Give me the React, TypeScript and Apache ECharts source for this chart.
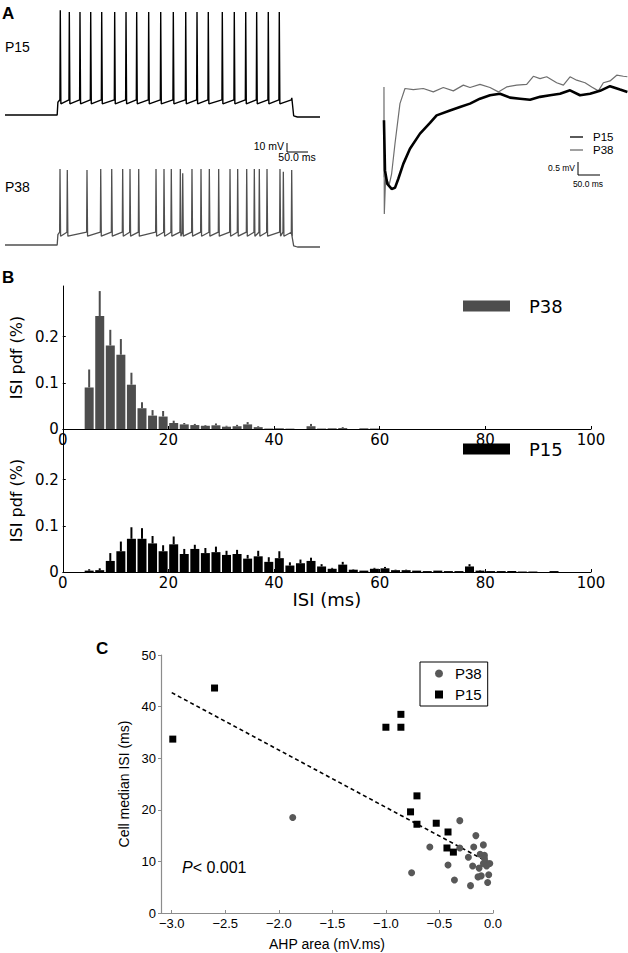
import React, { useEffect, useRef } from "react";
import * as echarts from "echarts";

// ---------- Panel A: example spike trains (ms / mV) ----------
const STEP_ON_MS = 111;
const STEP_OFF_MS = 610;
const TRACE_END_MS = 670;

const p15SpikeTimes = [117.6, 136.8, 159.5, 182.3, 205.7, 233.3, 257.4, 280.1, 305.6, 331.2, 358, 384.4, 408.4, 432.4, 462.2, 487.7, 512, 535.3, 560, 583.4];
const p15SpikePeaks = [61, 58.8, 58.8, 58.8, 58.8, 58.8, 58.8, 58.8, 58.8, 58.8, 58.8, 58.8, 58.8, 58.8, 58.8, 58.8, 58.8, 58.8, 58.8, 58.8];
const p15Levels = [-70, -51, -56, -48.5, -72.5]; // rest, pre-spike, AHP, offset bump, undershoot

const p38SpikeTimes = [117, 132.5, 174.4, 203.6, 227, 250.3, 265.9, 284.4, 321.2, 338.2, 353.7, 372.9, 378, 397.7, 416.9, 434.6, 454.5, 478.6, 494.9, 514.1, 530.3, 540.9, 557.3, 584.9, 592, 609.8];
const p38SpikePeaks = [25, 23.8, 23.8, 25, 25, 25, 25, 25, 25, 25, 25, 25, 19.6, 25, 25, 25, 25, 25, 25, 25, 25, 25, 25, 25, 21.7, 23.8];
const p38Levels = [-70, -54, -59, -54, -72.5];

// averaged AHP traces (ms after spike, mV)
const ahpP38Time = [0, 0, 0.8, 3.8, 12.1, 17.4, 25, 36.3, 47.7, 66.6, 89.3, 112, 134.7, 157.5, 180.2, 195.3, 218, 240.7, 259.6, 278.5, 301.3, 324, 339.1, 354.3, 369.4, 392.1, 407.3, 422.4, 437.5, 456.5, 471.6, 486.8, 498.1, 513.2, 528.4, 543.5, 552.6];
const ahpP38Volt = [-3.41, 0.05, -4.82, -3.41, -3.69, -3.28, -2.13, -0.59, -0.01, -0.05, -0.01, -0.14, 0.03, -0.1, 0.12, 0.03, 0.15, 0.03, -0.14, 0.05, 0.12, 0.15, 0.46, 0.37, 0.44, 0.21, 0.12, 0.44, 0.31, 0.21, 0.05, -0.1, 0.21, 0.28, 0.5, 0.46, 0.44];
const ahpP15Time = [0, 2.3, 7.6, 17.4, 25, 32.6, 43.9, 59, 81.8, 104.5, 119.6, 149.9, 172.6, 195.3, 218, 240.7, 263.4, 286.1, 308.9, 331.6, 354.3, 377, 399.7, 422.4, 445.1, 467.8, 490.5, 513.2, 535.9, 552.6];
const ahpP15Volt = [-1.23, -3.15, -3.67, -3.86, -3.82, -3.47, -2.9, -2.32, -1.74, -1.33, -1.04, -0.85, -0.72, -0.59, -0.4, -0.27, -0.21, -0.36, -0.4, -0.44, -0.33, -0.27, -0.21, -0.08, -0.27, -0.21, -0.1, 0.08, -0.05, -0.14];

// ---------- Panel B: ISI histograms (2 ms bins) ----------
const isiBins = [1, 3, 5, 7, 9, 11, 13, 15, 17, 19, 21, 23, 25, 27, 29, 31, 33, 35, 37, 39, 41, 43, 45, 47, 49, 51, 53, 55, 57, 59, 61, 63, 65, 67, 69, 71, 73, 75, 77, 79, 81, 83, 85, 87, 89, 91, 93, 95, 97, 99];
const p38Pdf = [0, 0, 0.09, 0.245, 0.181, 0.161, 0.096, 0.045, 0.029, 0.027, 0.013, 0.01, 0.0085, 0.007, 0.008, 0.005, 0.006, 0.01, 0.004, 0.001, 0.0015, 0.0008, 0, 0.006, 0.001, 0.0015, 0.002, 0, 0.0015, 0.001, 0, 0, 0, 0, 0, 0, 0, 0, 0, 0, 0, 0, 0, 0, 0, 0, 0, 0, 0, 0];
const p38Sem = [0, 0, 0.039, 0.054, 0.034, 0.034, 0.026, 0.013, 0.012, 0.012, 0.005, 0.003, 0.0025, 0.0016, 0.004, 0.002, 0.003, 0.005, 0.002, 0, 0, 0, 0, 0.005, 0, 0, 0.002, 0, 0, 0, 0, 0, 0, 0, 0, 0, 0, 0, 0, 0, 0, 0, 0, 0, 0, 0, 0, 0, 0, 0];
const p15Pdf = [0, 0, 0.003, 0.004, 0.024, 0.045, 0.072, 0.072, 0.062, 0.045, 0.06, 0.039, 0.05, 0.041, 0.043, 0.037, 0.039, 0.029, 0.034, 0.022, 0.03, 0.014, 0.019, 0.024, 0.012, 0.007, 0.016, 0.005, 0.003, 0.007, 0.008, 0.004, 0.004, 0.003, 0.002, 0.003, 0.002, 0.002, 0.012, 0.003, 0.002, 0.002, 0.002, 0.001, 0.001, 0, 0.002, 0, 0, 0];
const p15Sem = [0, 0, 0.003, 0.004, 0.017, 0.021, 0.025, 0.023, 0.016, 0.013, 0.017, 0.011, 0.009, 0.011, 0.012, 0.009, 0.009, 0.008, 0.012, 0.01, 0.015, 0.007, 0.008, 0.007, 0.005, 0.002, 0.006, 0.001, 0, 0.002, 0.003, 0.001, 0.001, 0, 0, 0, 0, 0, 0.005, 0.001, 0, 0, 0, 0, 0, 0, 0, 0, 0, 0];
const isiXTicks = [0, 20, 40, 60, 80, 100];
const pdfYTicks = [0, 0.1, 0.2];

// ---------- Panel C: AHP area vs median ISI ----------
const p38Ahp = [-1.87, -0.76, -0.59, -0.42, -0.36, -0.31, -0.31, -0.23, -0.21, -0.18, -0.16, -0.19, -0.14, -0.13, -0.11, -0.12, -0.09, -0.08, -0.07, -0.09, -0.06, -0.04, -0.05, -0.03, -0.08];
const p38MedianIsi = [18.5, 7.8, 12.8, 9.3, 6.4, 12.6, 17.9, 10.8, 5.3, 12.8, 15.0, 9.1, 7.0, 8.7, 7.2, 11.4, 13.2, 11.2, 9.9, 9.6, 9.1, 7.4, 5.9, 9.6, 10.6];
const p15Ahp = [-2.99, -2.6, -1.0, -0.86, -0.86, -0.71, -0.77, -0.71, -0.53, -0.42, -0.43, -0.37];
const p15MedianIsi = [33.7, 43.6, 36.0, 38.5, 36.0, 22.7, 19.6, 17.2, 17.4, 15.7, 12.6, 11.8];
const fitAhp = [-3.0, -0.04];
const fitIsi = [42.7, 9.8];
const ahpXTicks = [-3.0, -2.5, -2.0, -1.5, -1.0, -0.5, 0.0];

const FONT = "Liberation Sans, Arial, Helvetica, sans-serif";
const FONT_B = "DejaVu Sans, Liberation Sans, sans-serif";
const GREY = "#505050";

function buildSpikeTrace(times: number[], peaks: number[], levels: number[]) {
  const [rest, pre, ahp, offBump, under] = levels;
  const pts: number[][] = [[0, rest], [STEP_ON_MS, rest], [STEP_ON_MS + 1.5, pre - 3]];
  times.forEach((t, i) => {
    pts.push([t - 0.8, pre], [t, peaks[i]], [t + 1.2, ahp]);
  });
  pts.push([STEP_OFF_MS - 1, pre], [STEP_OFF_MS, offBump], [STEP_OFF_MS + 4, rest - 1], [STEP_OFF_MS + 12, under], [TRACE_END_MS, under]);
  return pts;
}

const zip = (a: number[], b: number[]) => a.map((v, i) => [v, b[i]]);

function histData(pdf: number[]) {
  return isiBins.map((b, i) => [b, pdf[i]]).filter((d) => d[1] > 0);
}
function errData(pdf: number[], sem: number[]) {
  return isiBins.map((b, i) => [b, pdf[i], sem[i]]).filter((d) => d[2] > 0);
}
function errRender(color: string) {
  return (params: any, api: any) => {
    const x = api.value(0);
    const y = api.value(1);
    const e = api.value(2);
    const p0 = api.coord([x, y]);
    const p1 = api.coord([x, y + e]);
    return {
      type: "line",
      shape: { x1: p0[0], y1: p0[1], x2: p1[0], y2: p1[1] },
      style: { stroke: color, lineWidth: 2 },
    };
  };
}
const legendName = (n: string) => n.split(" ")[0];

function text(x: number, y: number, t: string, size: number, extra: any = {}) {
  return {
    type: "text",
    x,
    y,
    style: {
      text: t,
      fontSize: size,
      fontFamily: FONT,
      fill: "#000",
      align: "left",
      verticalAlign: "middle",
      textAlign: "left",
      textVerticalAlign: "middle",
      ...extra,
    },
  };
}
function seg(x1: number, y1: number, x2: number, y2: number) {
  return { type: "line", shape: { x1, y1, x2, y2 }, style: { stroke: "#000", lineWidth: 1 } };
}

const hiddenX = (gi: number, min: number, max: number) => ({ type: "value", gridIndex: gi, min, max, show: false });
const hiddenY = (gi: number, min: number, max: number) => ({ type: "value", gridIndex: gi, min, max, show: false });

const histX = (gi: number, withName: boolean) => ({
  type: "value",
  gridIndex: gi,
  min: 0,
  max: 100,
  interval: 20,
  axisLine: { onZero: false, lineStyle: { color: "#000", width: 1 } },
  axisTick: { inside: true, length: 3, lineStyle: { color: "#000" }, customValues: isiXTicks },
  axisLabel: { fontFamily: FONT_B, fontSize: 15, color: "#000", margin: 3, customValues: isiXTicks },
  splitLine: { show: false },
  ...(withName
    ? { name: "ISI (ms)", nameLocation: "middle", nameGap: 15, nameTextStyle: { fontFamily: FONT_B, fontSize: 18, color: "#000" } }
    : {}),
});
const histY = (gi: number) => ({
  type: "value",
  gridIndex: gi,
  min: 0,
  max: 0.31,
  interval: 0.1,
  axisLine: { show: true, onZero: false, lineStyle: { color: "#000", width: 1 } },
  axisTick: { show: true, inside: true, length: 3, lineStyle: { color: "#000" }, customValues: [0.1, 0.2] },
  axisLabel: {
    fontFamily: FONT_B,
    fontSize: 15,
    color: "#000",
    margin: 4,
    customValues: pdfYTicks,
    formatter: (v: number) => (v === 0 ? "0" : v.toFixed(1)),
  },
  splitLine: { show: false },
  name: "ISI pdf (%)",
  nameLocation: "middle",
  nameGap: 36,
  nameTextStyle: { fontFamily: FONT_B, fontSize: 16, color: "#000" },
});

const option: any = {
  animation: false,
  textStyle: { fontFamily: FONT },
  grid: [
    { left: 5, top: 5, width: 315, height: 120 },
    { left: 5, top: 135, width: 315, height: 120 },
    { left: 380, top: 70, width: 248, height: 146 },
    { left: 57, top: 286, width: 534, height: 143 },
    { left: 57, top: 429, width: 534, height: 143 },
    { left: 161, top: 655, width: 332, height: 258 },
  ],
  xAxis: [
    hiddenX(0, 0, TRACE_END_MS),
    hiddenX(1, 0, TRACE_END_MS),
    hiddenX(2, -9, 554),
    histX(3, false),
    histX(4, true),
    {
      type: "value",
      gridIndex: 5,
      min: -3.1,
      max: 0,
      axisLine: { onZero: false, lineStyle: { color: "#8c8c8c", width: 1.2 } },
      axisTick: { inside: true, length: 3, lineStyle: { color: "#8c8c8c" }, customValues: ahpXTicks },
      axisLabel: {
        fontSize: 13,
        color: "#000",
        margin: 4,
        customValues: ahpXTicks,
        formatter: (v: number) => v.toFixed(1).replace("-", "\u2212").replace("\u22120.0", "0.0"),
      },
      splitLine: { show: false },
      name: "AHP area (mV.ms)",
      nameLocation: "middle",
      nameGap: 24,
      nameTextStyle: { fontSize: 14, color: "#000" },
    },
  ],
  yAxis: [
    hiddenY(0, -82.5, 67.5),
    hiddenY(1, -82.5, 67.5),
    hiddenY(2, -4.9, 0.7),
    histY(3),
    histY(4),
    {
      type: "value",
      gridIndex: 5,
      min: 0,
      max: 50,
      interval: 10,
      axisLine: { show: true, onZero: false, lineStyle: { color: "#8c8c8c", width: 1.2 } },
      axisTick: { show: true, length: 3, lineStyle: { color: "#8c8c8c" } },
      axisLabel: { fontSize: 13, color: "#000", margin: 5 },
      splitLine: { show: false },
      name: "Cell median ISI (ms)",
      nameLocation: "middle",
      nameGap: 29,
      nameTextStyle: { fontSize: 14, color: "#000" },
    },
  ],
  legend: [
    {
      data: [
        { name: "P15 AHP", icon: "rect", itemStyle: { color: "#000" } },
        { name: "P38 AHP", icon: "rect", itemStyle: { color: "#6e6e6e" } },
      ],
      selectedMode: false,
      orient: "vertical",
      left: 570,
      top: 131,
      padding: 0,
      itemGap: 1,
      itemWidth: 13,
      itemHeight: 1.3,
      formatter: legendName,
      textStyle: { fontSize: 11.5, color: "#000", padding: [0, 0, 0, 5] },
    },
    {
      data: ["P38 ISI"],
      selectedMode: false,
      left: 463,
      top: 297,
      padding: 0,
      icon: "rect",
      itemWidth: 47,
      itemHeight: 11,
      formatter: legendName,
      textStyle: { fontFamily: FONT_B, fontSize: 18, color: "#000", padding: [0, 0, 0, 14] },
    },
    {
      data: ["P15 ISI"],
      selectedMode: false,
      left: 463,
      top: 440,
      padding: 0,
      icon: "rect",
      itemWidth: 47,
      itemHeight: 11,
      formatter: legendName,
      textStyle: { fontFamily: FONT_B, fontSize: 18, color: "#000", padding: [0, 0, 0, 14] },
    },
    {
      data: ["P38 cells", "P15 cells"],
      selectedMode: false,
      orient: "vertical",
      left: 420,
      top: 662,
      padding: [4, 6, 4, 15],
      itemGap: 6,
      itemWidth: 8,
      itemHeight: 8,
      borderColor: "#000",
      borderWidth: 1,
      formatter: legendName,
      textStyle: { fontSize: 15, color: "#000", padding: [0, 0, 0, 7] },
    },
  ],
  series: [
    {
      name: "P15 trace",
      type: "line",
      xAxisIndex: 0,
      yAxisIndex: 0,
      data: buildSpikeTrace(p15SpikeTimes, p15SpikePeaks, p15Levels),
      symbol: "none",
      lineStyle: { color: "#000", width: 1.4 },
    },
    {
      name: "P38 trace",
      type: "line",
      xAxisIndex: 1,
      yAxisIndex: 1,
      data: buildSpikeTrace(p38SpikeTimes, p38SpikePeaks, p38Levels),
      symbol: "none",
      lineStyle: { color: GREY, width: 1.3 },
    },
    {
      name: "P38 AHP",
      type: "line",
      xAxisIndex: 2,
      yAxisIndex: 2,
      data: zip(ahpP38Time, ahpP38Volt),
      symbol: "none",
      color: "#6e6e6e",
      lineStyle: { color: "#6e6e6e", width: 1.2 },
    },
    {
      name: "P15 AHP",
      type: "line",
      xAxisIndex: 2,
      yAxisIndex: 2,
      data: zip(ahpP15Time, ahpP15Volt),
      symbol: "none",
      color: "#000",
      lineStyle: { color: "#000", width: 2.6 },
    },
    {
      name: "P38 ISI",
      type: "bar",
      xAxisIndex: 3,
      yAxisIndex: 3,
      data: histData(p38Pdf),
      barWidth: 9,
      itemStyle: { color: "#4d4d4d" },
    },
    {
      name: "P38 ISI sem",
      type: "custom",
      xAxisIndex: 3,
      yAxisIndex: 3,
      data: errData(p38Pdf, p38Sem),
      renderItem: errRender("#4d4d4d"),
      z: 3,
    },
    {
      name: "P15 ISI",
      type: "bar",
      xAxisIndex: 4,
      yAxisIndex: 4,
      data: histData(p15Pdf),
      barWidth: 9,
      itemStyle: { color: "#000" },
    },
    {
      name: "P15 ISI sem",
      type: "custom",
      xAxisIndex: 4,
      yAxisIndex: 4,
      data: errData(p15Pdf, p15Sem),
      renderItem: errRender("#000"),
      z: 3,
    },
    {
      name: "fit",
      type: "line",
      xAxisIndex: 5,
      yAxisIndex: 5,
      data: zip(fitAhp, fitIsi),
      symbol: "none",
      lineStyle: { color: "#000", width: 1.6, type: [4, 3] },
      z: 1,
    },
    {
      name: "P38 cells",
      type: "scatter",
      xAxisIndex: 5,
      yAxisIndex: 5,
      data: zip(p38Ahp, p38MedianIsi),
      symbol: "circle",
      symbolSize: 7,
      itemStyle: { color: "#585858", opacity: 1 },
      z: 2,
    },
    {
      name: "P15 cells",
      type: "scatter",
      xAxisIndex: 5,
      yAxisIndex: 5,
      data: zip(p15Ahp, p15MedianIsi),
      symbol: "rect",
      symbolSize: 7,
      itemStyle: { color: "#000", opacity: 1 },
      z: 3,
    },
  ],
  graphic: [
    text(2, 13, "A", 17, { fontWeight: "bold" }),
    text(2, 277, "B", 17, { fontWeight: "bold" }),
    text(96, 648, "C", 17, { fontWeight: "bold" }),
    text(5, 47, "P15", 14),
    text(5, 187, "P38", 14),
    seg(287, 143, 287, 152),
    seg(287, 152, 308, 152),
    text(284, 146, "10 mV", 10.5, { align: "right", textAlign: "right" }),
    text(297, 157, "50.0 ms", 10.5, { align: "center", textAlign: "center" }),
    seg(578, 162, 578, 175),
    seg(578, 175, 600, 175),
    text(575, 168, "0.5 mV", 8.5, { align: "right", textAlign: "right" }),
    text(588, 183.5, "50.0 ms", 8.5, { align: "center", textAlign: "center" }),
    {
      type: "text",
      x: 182,
      y: 867,
      style: {
        text: "{i|P}< 0.001",
        fontSize: 16,
        fontFamily: FONT,
        fill: "#000",
        align: "left",
        verticalAlign: "middle",
        textAlign: "left",
        textVerticalAlign: "middle",
        rich: { i: { fontStyle: "italic", fontSize: 16, fontFamily: FONT, fill: "#000" } },
      },
    },
  ],
};

export default function App() {
  const ref = useRef<HTMLDivElement>(null);
  useEffect(() => {
    document.body.style.margin = "0";
    const chart = echarts.init(ref.current as HTMLDivElement, null, { renderer: "svg" });
    chart.setOption(option);
    return () => chart.dispose();
  }, []);
  return <div ref={ref} style={{ width: 628, height: 953 }} />;
}
